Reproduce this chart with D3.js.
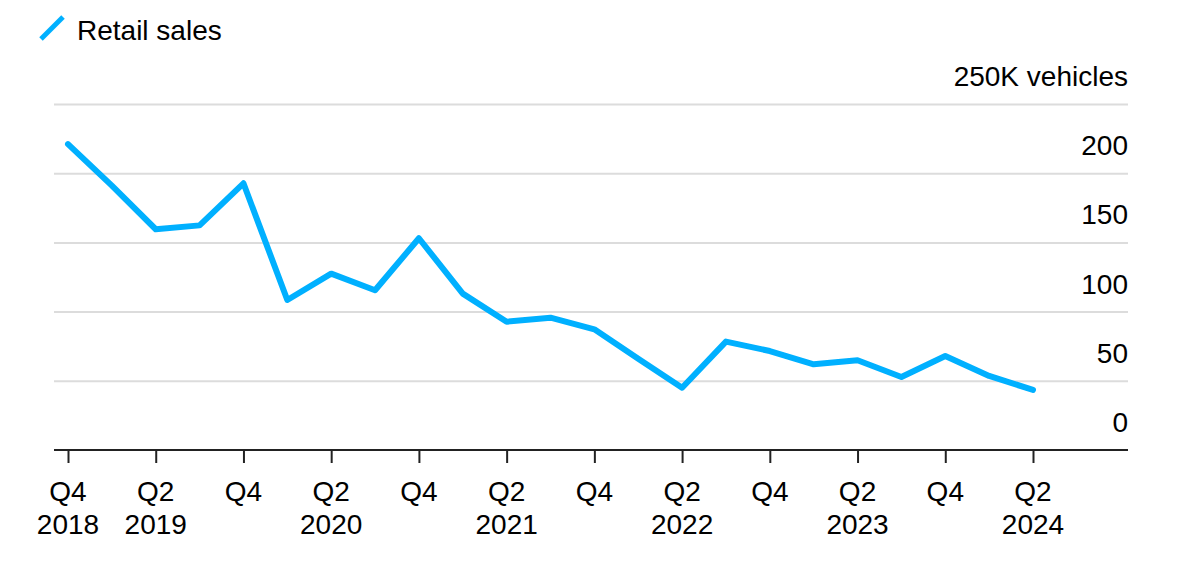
<!DOCTYPE html>
<html>
<head>
<meta charset="utf-8">
<script src="https://cdn.jsdelivr.net/npm/d3@7"></script>
<style>
  html, body { margin: 0; padding: 0; background: #fff; }
  svg { display: block; }
  text { font-family: "Liberation Sans", Arial, Helvetica, sans-serif; fill: #000; }
</style>
</head>
<body>
<svg id="chart" width="1178" height="582"></svg>
<script>
// ---- Data ----
const quarters = ["Q4 2018","Q1 2019","Q2 2019","Q3 2019","Q4 2019","Q1 2020","Q2 2020","Q3 2020","Q4 2020",
  "Q1 2021","Q2 2021","Q3 2021","Q4 2021","Q1 2022","Q2 2022","Q3 2022","Q4 2022",
  "Q1 2023","Q2 2023","Q3 2023","Q4 2023","Q1 2024","Q2 2024"];
const retailSales = [221, 191, 159.5, 162.3, 192.7, 108.4, 127.4, 115.4, 153,
  113, 92.7, 95.6, 87.2, 66, 45, 78.3, 71.5,
  61.9, 64.8, 52.7, 67.9, 53.5, 43.4];
const yTicks = [0, 50, 100, 150, 200, 250];
const yTickLabels = ["0", "50", "100", "150", "200", "250K vehicles"];
const xTickQuarters = ["Q4 2018","Q2 2019","Q4 2019","Q2 2020","Q4 2020","Q2 2021","Q4 2021",
  "Q2 2022","Q4 2022","Q2 2023","Q4 2023","Q2 2024"];
const seriesName = "Retail sales";

(function () {
// ---- Layout ----
const svg = d3.select("#chart");
const mLeft = 54, mRight = 1128, mTop = 104, mBottom = 450;
const blue = "#00b0ff";
const fs = 28;

const idx = d3.scaleLinear().domain([0, quarters.length - 1]).range([68, 1033]);
const x = d3.scaleLinear()
  .domain([idx.invert(mLeft), idx.invert(mRight)])
  .range([mLeft, mRight]);
const y = d3.scaleLinear().domain([0, 250]).range([mBottom, mTop]);

// gridlines (excluding zero)
const gridG = svg.append("g")
  .attr("transform", `translate(${mRight},0)`)
  .call(d3.axisLeft(y).tickValues(yTicks.filter(d => d > 0)).tickSize(mRight - mLeft).tickFormat(""));
gridG.select(".domain").remove();
gridG.selectAll(".tick line").attr("stroke", "#dcdcdc").attr("stroke-width", 2);

// y labels
svg.append("g").selectAll("text")
  .data(yTicks)
  .join("text")
  .attr("x", mRight)
  .attr("y", d => y(d) - 18)
  .attr("text-anchor", "end")
  .attr("font-size", fs)
  .text((d, i) => yTickLabels[i]);

// x axis
const xAxis = d3.axisBottom(x)
  .tickValues(xTickQuarters.map(q => quarters.indexOf(q)))
  .tickSize(13)
  .tickFormat("");
const xg = svg.append("g")
  .attr("transform", `translate(0,${mBottom})`)
  .call(xAxis);
xg.select(".domain").attr("stroke", "#222").attr("stroke-width", 2)
  .attr("d", `M${mLeft},0H${mRight}`);
xg.selectAll(".tick line").attr("stroke", "#222").attr("stroke-width", 2);

// x labels
const lbl = svg.append("g").selectAll("g")
  .data(xTickQuarters)
  .join("g")
  .attr("transform", q => `translate(${x(quarters.indexOf(q))},0)`);
lbl.append("text")
  .attr("y", 501)
  .attr("text-anchor", "middle")
  .attr("font-size", fs)
  .text(q => q.split(" ")[0]);
lbl.filter((q, i) => i === 0 || q.startsWith("Q2"))
  .append("text")
  .attr("y", 534)
  .attr("text-anchor", "middle")
  .attr("font-size", fs)
  .text(q => q.split(" ")[1]);

// line
const line = d3.line()
  .x((d, i) => x(i))
  .y(d => y(d))
  .curve(d3.curveLinear);
svg.append("path")
  .datum(retailSales)
  .attr("fill", "none")
  .attr("stroke", blue)
  .attr("stroke-width", 6)
  .attr("stroke-linejoin", "round")
  .attr("stroke-linecap", "round")
  .attr("d", line);

// legend
svg.append("line")
  .attr("x1", 41).attr("y1", 39).attr("x2", 63).attr("y2", 17)
  .attr("stroke", blue).attr("stroke-width", 5);
svg.append("text")
  .attr("x", 77).attr("y", 40)
  .attr("font-size", fs)
  .text(seriesName);
})();
</script>
</body>
</html>
